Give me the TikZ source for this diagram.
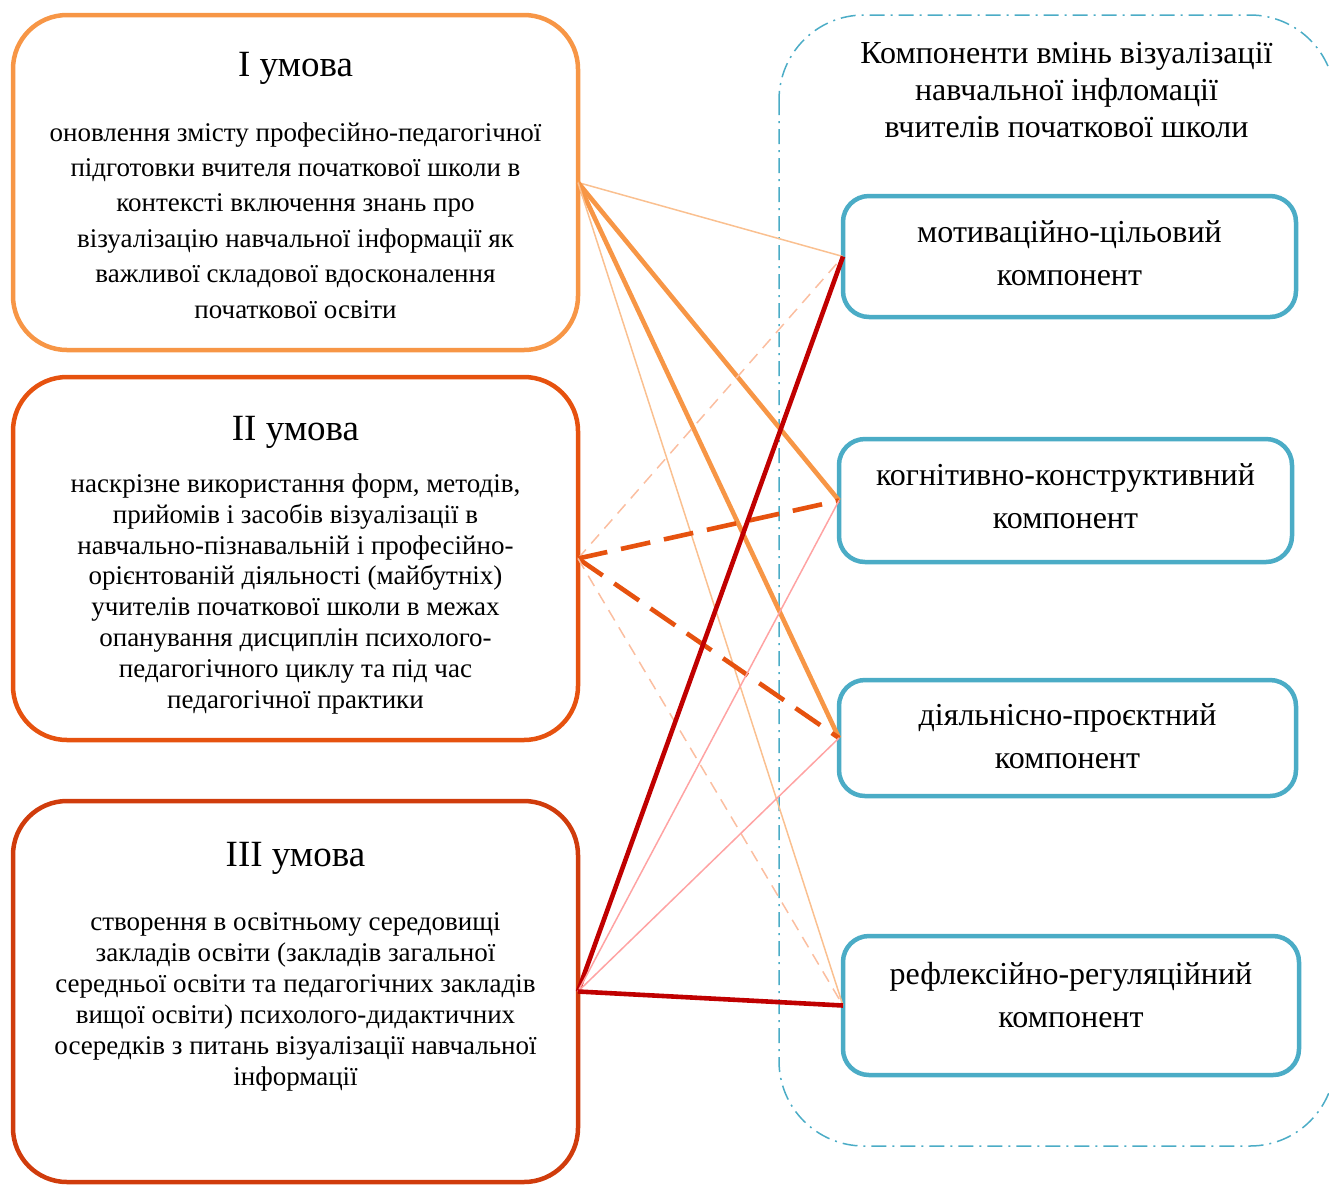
\documentclass[tikz,border=0pt]{standalone}
\usepackage{fontspec}
\setmainfont{Liberation Serif}
\usepackage{xcolor}
\usepackage{tikz}
\usetikzlibrary{positioning}
\usetikzlibrary{calc}

\definecolor{umovaone}{HTML}{F79646}
\definecolor{umovatwo}{HTML}{E6520F}
\definecolor{umovathree}{HTML}{D03C0C}
\definecolor{lightone}{HTML}{FAC090}
\definecolor{lighttwo}{HTML}{FBBEA0}
\definecolor{darkred}{HTML}{C00000}
\definecolor{lightred}{HTML}{FFA3A3}
\definecolor{kompblue}{HTML}{4BACC6}

\tikzset{
  umova/.style={draw, line width=2.25pt, rounded corners=27pt, minimum width=282.5pt,
    inner sep=0pt, outer sep=0pt, fill=white},
  komp/.style={draw=kompblue, line width=2.25pt, rounded corners=13pt, fill=white,
    inner sep=0pt, outer sep=0pt},
  ttl/.style={anchor=base, inner sep=0pt, font=\fontsize{18.5}{21}\selectfont},
  body/.style={anchor=base, inner sep=0pt, align=center},
  ktext/.style={anchor=base, inner sep=0pt, align=center, font=\fontsize{16}{21.5}\selectfont},
  thinline/.style={line width=0.75pt},
  thickline/.style={line width=2.3pt},
  thindash/.style={line width=0.75pt, dash pattern=on 6pt off 4pt},
  thickdash/.style={line width=2.3pt, dash pattern=on 15pt off 7pt}
}

\begin{document}
\begin{tikzpicture}[x=0.5pt,y=-0.5pt]
\useasboundingbox (0,0) rectangle (1329,1185);

% container of components
\begin{scope}
\clip (0,0) rectangle (1329,1185);
\draw[kompblue, line width=0.75pt, dash pattern=on 7.5pt off 3pt on 1pt off 3pt, rounded corners=42.5pt]
  (779,15) rectangle (1335,1146);
\end{scope}
\node[anchor=base, inner sep=0pt, align=center, font=\fontsize{16}{18.5}\selectfont] (kt) at (1066.5,137)
  {Компоненти вмінь візуалізації\\навчальної інфломації\\вчителів початкової школи};

% conditions
\node[umova, draw=umovaone, minimum height=167.5pt] (U1) at (295.5,182.5) {};
\node[umova, draw=umovatwo, minimum height=181.5pt] (U2) at (295.5,558.5) {};
\node[umova, draw=umovathree, minimum height=190.5pt] (U3) at (295.5,991.5) {};

% components
\node[komp, minimum width=226.5pt, minimum height=60.5pt] (K1) at (1069.5,256.5) {};
\node[komp, minimum width=226.5pt, minimum height=61.5pt] (K2) at (1065.5,500.5) {};
\node[komp, minimum width=228.5pt, minimum height=58pt] (K3) at (1067.5,738) {};
\node[komp, minimum width=228pt, minimum height=69.5pt] (K4) at (1071,1005.5) {};

% links from I
\draw[thinline, lightone] (U1.east) -- (K1.west);
\draw[thickline, umovaone] (U1.east) -- (K2.west);
\draw[thickline, umovaone] (U1.east) -- (K3.west);
\draw[thinline, lightone] (U1.east) -- (K4.west);
% links from II
\draw[thindash, lighttwo] (U2.east) -- (K1.west);
\draw[thickdash, umovatwo] (U2.east) -- (K2.west);
\draw[thickdash, umovatwo] (U2.east) -- (K3.west);
\draw[thindash, lighttwo] (U2.east) -- (K4.west);
% links from III
\draw[thickline, darkred] (U3.east) -- (K1.west);
\draw[thinline, lightred] (U3.east) -- (K2.west);
\draw[thinline, lightred] (U3.east) -- (K3.west);
\draw[thickline, darkred] (U3.east) -- (K4.west);

% texts (base = last line)
\node[ttl] (t1) at (295.5,76) {I умова};
\node[body, font=\fontsize{13.5}{17.7}\selectfont] (b1) at (295.5,318)
  {оновлення змісту професійно-педагогічної\\підготовки вчителя початкової школи в\\контексті включення знань про\\візуалізацію навчальної інформації як\\важливої складової вдосконалення\\початкової освіти};
\node[ttl] (t2) at (295.5,440) {II умова};
\node[body, font=\fontsize{13.5}{15.4}\selectfont] (b2) at (295.5,708)
  {наскрізне використання форм, методів,\\прийомів і засобів візуалізації в\\навчально-пізнавальній і професійно-\\орієнтованій діяльності (майбутніх)\\учителів початкової школи в межах\\опанування дисциплін психолого-\\педагогічного циклу та під час\\педагогічної практики};
\node[ttl] (t3) at (295.5,866) {III умова};
\node[body, font=\fontsize{13.5}{15.5}\selectfont] (b3) at (295.5,1085)
  {створення в освітньому середовищі\\закладів освіти (закладів загальної\\середньої освіти та педагогічних закладів\\вищої освіти) психолого-дидактичних\\осередків з питань візуалізації навчальної\\інформації};

\node[ktext] (k1) at (1069.5,285) {мотиваційно-цільовий\\компонент};
\node[ktext] (k2) at (1065.5,528) {когнітивно-конструктивний\\компонент};
\node[ktext] (k3) at (1067.5,768) {діяльнісно-проєктний\\компонент};
\node[ktext] (k4) at (1071,1027) {рефлексійно-регуляційний\\компонент};
\end{tikzpicture}
\end{document}
